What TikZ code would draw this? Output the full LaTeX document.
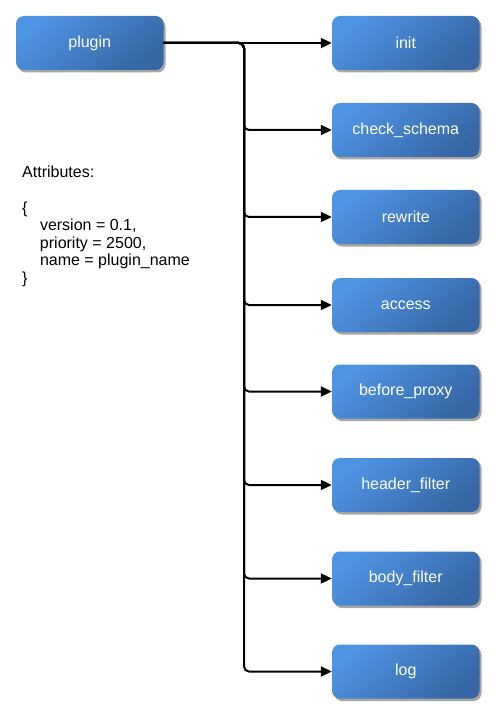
\documentclass[tikz,border=0pt]{standalone}
\usepackage{fontspec}
\setmainfont{Liberation Sans}
\usetikzlibrary{arrows.meta,shadows,calc}
\definecolor{boxlight}{RGB}{78,148,228}
\definecolor{boxdark}{RGB}{54,102,164}
\tikzset{
  stagebox/.style={rounded corners=8pt, minimum width=147.5pt, minimum height=54pt,
    inner sep=0pt, top color=boxlight, bottom color=boxdark, shading angle=40,
    text=white, font=\fontsize{16}{19}\selectfont,
    drop shadow={shadow xshift=2pt, shadow yshift=-2.5pt, opacity=0.35, fill=black}},
  conn/.style={draw=black, line width=2pt, rounded corners=5pt,
    -{Triangle[length=11pt,width=10pt]}},
  attrtext/.style={anchor=base west, align=left, inner sep=0pt,
    font=\fontsize{16}{17.5}\selectfont}
}
\begin{document}
\begin{tikzpicture}[x=1pt,y=-1pt]
\useasboundingbox (0,0) rectangle (499,719);
\node[stagebox] (plugin) at (89.75,43) {plugin};
\node[stagebox] (init)   at (405.75,43)  {init};
\node[stagebox] (check)  at (405.75,130) {check\_schema};
\node[stagebox] (rewrite) at (405.75,217) {rewrite};
\node[stagebox] (access) at (405.75,305) {access};
\node[stagebox] (before) at (405.75,391.5) {before\_proxy};
\node[stagebox] (header) at (405.75,485) {header\_filter};
\node[stagebox] (body)   at (405.75,578.5) {body\_filter};
\node[stagebox] (log)    at (405.75,671.5) {log};
\coordinate (bus) at (244,43);
\draw[conn] (plugin.east) -- (init.west);
\foreach \n in {check,rewrite,access,before,header,body,log}
  \draw[conn] (plugin.east) -- (plugin.east -| bus) -- (bus |- \n.west) -- (\n.west);
\node[attrtext] (attrs) at (22,283) {Attributes:\\[17.5pt]
\{\\
\hspace*{17.8pt}version = 0.1,\\
\hspace*{17.8pt}priority = 2500,\\
\hspace*{17.8pt}name = plugin\_name\\
\}};
\end{tikzpicture}
\end{document}
